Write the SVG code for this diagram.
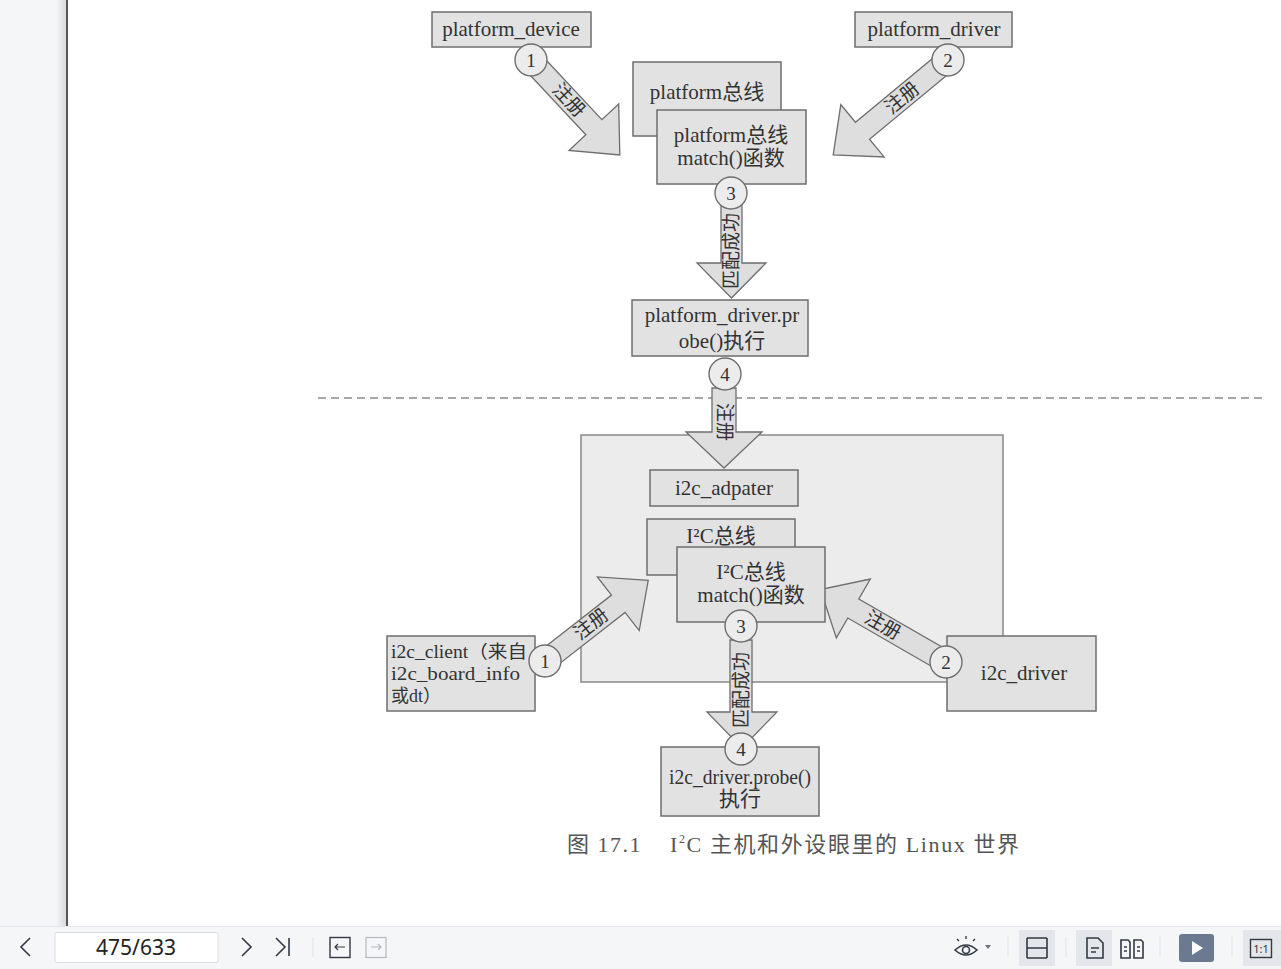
<svg xmlns="http://www.w3.org/2000/svg" width="1281" height="969" viewBox="0 0 1281 969">
<defs>
<linearGradient id="shade" x1="0" x2="1" y1="0" y2="0">
<stop offset="0" stop-color="#f5f6f8"/>
<stop offset="1" stop-color="#d9dadc"/>
</linearGradient>
<style>
.box{fill:#e2e2e2;stroke:#6e6e6e;stroke-width:1.5}
.cont{fill:#ececec;stroke:#888;stroke-width:1.5}
.arr{fill:#dedede;stroke:#6e6e6e;stroke-width:1.3;stroke-linejoin:miter}
.circ{fill:#ececec;stroke:#6e6e6e;stroke-width:1.4}
.t{font-family:"Liberation Serif","Noto Sans CJK SC",serif;font-size:21px;fill:#333;text-anchor:middle}
.tl{font-family:"Liberation Serif","Noto Sans CJK SC",serif;font-size:18px;fill:#333}
.n{font-family:"Liberation Serif",serif;font-size:19px;fill:#333;text-anchor:middle;dominant-baseline:central}
.al{font-family:"Liberation Serif","Noto Sans CJK SC",serif;font-size:19px;fill:#333;text-anchor:middle;dominant-baseline:central}
.cap{font-family:"Liberation Serif","Noto Sans CJK SC",serif;font-size:22px;fill:#555}
.ui{font-family:"Noto Sans","Liberation Sans",sans-serif}
.ico{fill:none;stroke:#333a45;stroke-width:1.6}
.sep{stroke:#e1e3e8;stroke-width:1}
</style>
</defs>

<!-- viewer chrome -->
<rect x="0" y="0" width="1281" height="969" fill="#ffffff"/>
<rect x="0" y="0" width="66" height="926" fill="#f5f6f8"/>
<rect x="56" y="0" width="10" height="926" fill="url(#shade)"/>
<rect x="66" y="0" width="2" height="926" fill="#555"/>

<!-- dashed separator -->
<line x1="318" y1="398" x2="1265" y2="398" stroke="#8a8a8a" stroke-width="1.3" stroke-dasharray="8,5"/>

<!-- container -->
<g id="i2c-core">
<rect class="cont" x="581" y="435" width="422" height="247"/>
</g>

<g id="connectors">
<!-- arrow 1 top -->
<polygon class="arr" transform="translate(531,60) rotate(46.9)" points="0,-11 92,-11 92,-34 130,0 92,34 92,11 0,11"/>
<text class="al" transform="translate(569,100) rotate(46.9)">注册</text>
<!-- arrow 2 top -->
<polygon class="arr" transform="translate(948,60) rotate(140.4)" points="0,-11 111,-11 111,-34 149,0 111,34 111,11 0,11"/>
<text class="al" transform="translate(902,98) rotate(-39.6)">注册</text>
<!-- arrow 3 top -->
<polygon class="arr" points="721,205 742,205 742,263 766,263 731.5,298 697,263 721,263"/>
<text class="al" transform="translate(731.5,251) rotate(-90)">匹配成功</text>
<!-- arrow 4 -->
<polygon class="arr" points="712,388 736,388 736,432 762,432 724,468 686,432 712,432"/>
<text class="al" transform="translate(724,422) rotate(90)">注册</text>
<!-- arrow 1 bottom -->
<polygon class="arr" transform="translate(545,661) rotate(-38)" points="0,-11 93,-11 93,-34 131,0 93,34 93,11 0,11"/>
<text class="al" transform="translate(591,624) rotate(-38)">注册</text>
<!-- arrow 2 bottom -->
<polygon class="arr" transform="translate(946,662) rotate(-150)" points="0,-11 107,-11 107,-34 145,0 107,34 107,11 0,11"/>
<text class="al" transform="translate(883,625) rotate(30)">注册</text>
<!-- arrow 3 bottom -->
<polygon class="arr" points="730,640 752,640 752,712 777,712 742,748 707,712 730,712"/>
<text class="al" transform="translate(741,690) rotate(-90)">匹配成功</text>
</g>

<g id="platform_device">
<rect class="box" x="432" y="12" width="159" height="35"/>
<text class="t" x="511" y="36">platform_device</text>
</g>
<g id="platform_driver">
<rect class="box" x="855" y="12" width="157" height="35"/>
<text class="t" x="934" y="36">platform_driver</text>
</g>
<g id="platform_bus">
<rect class="box" x="633" y="62" width="148" height="74"/>
<text class="t" x="707" y="99">platform总线</text>
</g>
<g id="platform_match">
<rect class="box" x="657" y="110" width="149" height="74"/>
<text class="t" x="731" y="142">platform总线</text>
<text class="t" x="731" y="165">match()函数</text>
</g>
<g id="platform_probe">
<rect class="box" x="632" y="300" width="176" height="56"/>
<text class="t" x="722" y="322">platform_driver.pr</text>
<text class="t" x="722" y="348">obe()执行</text>
</g>
<g id="i2c_adpater">
<rect class="box" x="650" y="470" width="148" height="36"/>
<text class="t" x="724" y="495">i2c_adpater</text>
</g>
<g id="i2c_bus">
<rect class="box" x="647" y="519" width="148" height="56"/>
<text class="t" x="721" y="543">I²C总线</text>
</g>
<g id="i2c_match">
<rect class="box" x="677" y="547" width="148" height="75"/>
<text class="t" x="751" y="579">I²C总线</text>
<text class="t" x="751" y="602">match()函数</text>
</g>
<g id="i2c_client">
<rect class="box" x="387" y="636" width="148" height="75"/>
<text class="tl" x="391" y="658" textLength="136" lengthAdjust="spacingAndGlyphs">i2c_client（来自</text>
<text class="tl" x="391" y="680" textLength="129" lengthAdjust="spacingAndGlyphs">i2c_board_info</text>
<text class="tl" x="391" y="702">或dt）</text>
</g>
<g id="i2c_driver">
<rect class="box" x="947" y="636" width="149" height="75"/>
<text class="t" x="1024" y="680">i2c_driver</text>
</g>
<g id="i2c_probe">
<rect class="box" x="661" y="747" width="158" height="69"/>
<text class="t" x="740" y="784" textLength="142" lengthAdjust="spacingAndGlyphs">i2c_driver.probe()</text>
<text class="t" x="740" y="806">执行</text>
</g>

<!-- step circles -->
<g id="step-circles">
<circle class="circ" cx="531" cy="60" r="16"/><text class="n" x="531" y="60">1</text>
<circle class="circ" cx="948" cy="60" r="16"/><text class="n" x="948" y="60">2</text>
<circle class="circ" cx="731" cy="193" r="16"/><text class="n" x="731" y="193">3</text>
<circle class="circ" cx="725" cy="374" r="16"/><text class="n" x="725" y="374">4</text>
<circle class="circ" cx="545" cy="661" r="16"/><text class="n" x="545" y="661">1</text>
<circle class="circ" cx="946" cy="662" r="16"/><text class="n" x="946" y="662">2</text>
<circle class="circ" cx="741" cy="626" r="16"/><text class="n" x="741" y="626">3</text>
<circle class="circ" cx="741" cy="749" r="16"/><text class="n" x="741" y="749">4</text>
</g>

<!-- caption -->
<text class="cap" x="567" y="852" letter-spacing="1.5">图 17.1</text>
<text class="cap" x="670" y="852" letter-spacing="1.6">I<tspan font-size="12" dy="-9">2</tspan><tspan dy="9">C 主机和外设眼里的 Linux 世界</tspan></text>

<!-- bottom toolbar -->
<g id="toolbar">
<rect x="0" y="926" width="1281" height="43" fill="#f5f6f8"/>
<line x1="0" y1="926.5" x2="1281" y2="926.5" stroke="#e3e5e9"/>
<path class="ico" d="M30,938 L21,947 L30,956"/>
<rect x="55" y="932.5" width="163" height="30" rx="2" fill="#fff" stroke="#d9dce1"/>
<text class="ui" x="136" y="955" font-size="21" fill="#222" text-anchor="middle">475/633</text>
<path class="ico" d="M242,938 L251,947 L242,956"/>
<path class="ico" d="M276,938 L285,947 L276,956 M289,938 L289,956"/>
<line class="sep" x1="313" y1="937" x2="313" y2="957"/>
<rect x="330" y="937.5" width="20" height="20" fill="none" stroke="#333a45" stroke-width="1.4"/>
<path d="M345,947 L335,947 M338,944 L335,947 L338,950" fill="none" stroke="#333a45" stroke-width="1.2"/>
<rect x="366" y="937.5" width="20" height="20" fill="none" stroke="#b5b9c0" stroke-width="1.2"/>
<path d="M371,947 L381,947 M378,944 L381,947 L378,950" fill="none" stroke="#b5b9c0" stroke-width="1.2"/>
<!-- eye -->
<path class="ico" d="M955,950 Q966,940 977,950 Q966,960 955,950 Z"/>
<circle cx="966" cy="950" r="3.5" fill="none" stroke="#333a45" stroke-width="1.6"/>
<path d="M966,936 L966,939 M957,939 L959,941 M975,939 L973,941" stroke="#333a45" stroke-width="1.4"/>
<path d="M985,945 L991,945 L988,949 Z" fill="#6b7280"/>
<line class="sep" x1="1008" y1="937" x2="1008" y2="957"/>
<rect x="1019" y="930" width="36" height="36" fill="#e3e6eb"/>
<path class="ico" d="M1027,938 L1047,938 M1027,958 L1047,958 M1027,938 L1027,958 M1047,938 L1047,958 M1027,948 L1047,948"/>
<line class="sep" x1="1066" y1="937" x2="1066" y2="957"/>
<rect x="1076" y="930" width="36" height="36" fill="#e3e6eb"/>
<path class="ico" d="M1087,938 L1098,938 L1103,943 L1103,958 L1087,958 Z M1091,948 L1099,948 M1091,952 L1096,952"/>
<path class="ico" d="M1121,940 L1128,940 L1130,942 L1130,958 L1121,958 Z M1134,940 L1141,940 L1143,942 L1143,958 L1134,958 Z M1124,947 L1127,947 M1124,951 L1127,951 M1137,947 L1140,947 M1137,951 L1140,951"/>
<line class="sep" x1="1160" y1="937" x2="1160" y2="957"/>
<rect x="1179" y="934" width="35" height="28" rx="3" fill="#6b7a90"/>
<path d="M1192,941 L1203,948 L1192,955 Z" fill="#fff"/>
<line class="sep" x1="1232" y1="937" x2="1232" y2="957"/>
<rect x="1243" y="930" width="38" height="36" fill="#e3e6eb"/>
<rect x="1250.5" y="939.5" width="21" height="18" fill="none" stroke="#333a45" stroke-width="1.4"/>
<text class="ui" x="1261" y="953" font-size="11" fill="#333a45" text-anchor="middle">1:1</text>
</g>
</svg>
